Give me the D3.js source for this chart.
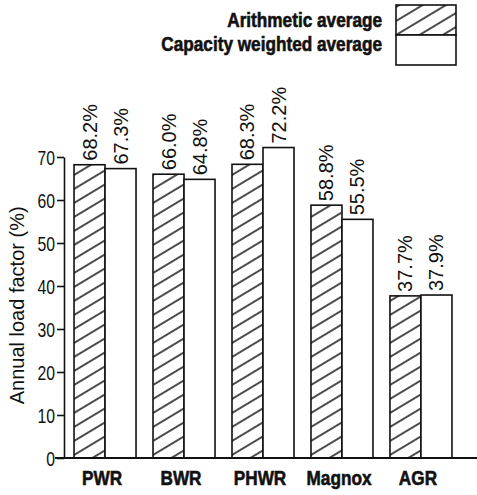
<!DOCTYPE html>
<html>
<head>
<meta charset="utf-8">
<script src="https://cdn.jsdelivr.net/npm/d3@7"></script>
<style>
  body { margin: 0; background: #fff; }
  svg text { font-family: "Liberation Sans", Arial, sans-serif; fill: #111; }
  svg text.heavy { font-weight: bold; stroke: #111; stroke-width: 0.6px; }
</style>
</head>
<body>
<div id="chart"></div>
<script>
const categories = ["PWR", "BWR", "PHWR", "Magnox", "AGR"];
const arithmetic = [68.2, 66.0, 68.3, 58.8, 37.7];
const capacityWeighted = [67.3, 64.8, 72.2, 55.5, 37.9];
const seriesNames = ["Arithmetic average", "Capacity weighted average"];
const yTicks = [0, 10, 20, 30, 40, 50, 60, 70];

const width = 477, height = 495;
const narrow = 0.75;   // squeeze for the condensed tick numbers
const boldNarrow = 0.86;

const svg = d3.select("#chart").append("svg")
  .attr("width", width)
  .attr("height", height);

// hatch for the arithmetic average
svg.append("defs").append("pattern")
  .attr("id", "hatch")
  .attr("patternUnits", "userSpaceOnUse")
  .attr("width", 10)
  .attr("height", 12)
  .attr("patternTransform", "rotate(-31)")
  .append("line")
  .attr("x1", -1).attr("y1", 6)
  .attr("x2", 11).attr("y2", 6)
  .attr("stroke", "#000")
  .attr("stroke-width", 1.4);

const fills = ["url(#hatch)", "#fff"];

const y = d3.scaleLinear().domain([0, 70]).range([458, 157]);

const x0 = d3.scaleBand()
  .domain(categories)
  .range([64, 462])
  .paddingInner(0.215)
  .paddingOuter(0.127);

const x1 = d3.scaleBand()
  .domain(seriesNames)
  .range([0, x0.bandwidth()]);

const rows = categories.map((c, i) => ({
  cat: c,
  values: [
    { key: seriesNames[0], v: arithmetic[i] },
    { key: seriesNames[1], v: capacityWeighted[i] }
  ]
}));

// y axis
const yAxis = svg.append("g")
  .attr("transform", "translate(64,0)")
  .call(d3.axisLeft(y).tickValues(yTicks).tickSize(7).tickPadding(2).tickSizeOuter(0));
yAxis.select(".domain").attr("stroke", "#111").attr("stroke-width", 1.6);
yAxis.selectAll(".tick line").attr("stroke", "#111").attr("stroke-width", 1.6);
yAxis.selectAll(".tick text")
  .style("font-size", "21px")
  .attr("transform", "scale(" + narrow + ",1)")
  .attr("x", -9 / narrow)
  .attr("dy", "0.36em");

svg.append("text")
  .attr("transform", "translate(24," + y(35.5) + ") rotate(-90)")
  .attr("text-anchor", "middle")
  .style("font-size", "20px")
  .text("Annual load factor (%)");

// groups of bars
const groups = svg.selectAll(".grp")
  .data(rows)
  .join("g")
  .attr("class", "grp")
  .attr("transform", d => "translate(" + x0(d.cat) + ",0)");

groups.selectAll("rect")
  .data(d => d.values)
  .join("rect")
  .attr("x", d => x1(d.key))
  .attr("y", d => y(d.v))
  .attr("width", x1.bandwidth())
  .attr("height", d => y(0) - y(d.v))
  .attr("fill", (d, i) => fills[i])
  .attr("stroke", "#111")
  .attr("stroke-width", 1.6);

groups.selectAll(".val")
  .data(d => d.values)
  .join("text")
  .attr("class", "val")
  .attr("transform", d => "translate(" + (x1(d.key) + x1.bandwidth() / 2 + 7) + "," + (y(d.v) - 4) + ") rotate(-90)")
  .style("font-size", "20px")
  .text(d => d3.format(".1f")(d.v) + "%");

// baseline
svg.append("line")
  .attr("x1", 55).attr("x2", width)
  .attr("y1", y(0)).attr("y2", y(0))
  .attr("stroke", "#111")
  .attr("stroke-width", 1.8);

// category labels
svg.selectAll(".cat")
  .data(categories)
  .join("text")
  .attr("class", "cat heavy")
  .attr("transform", d => "translate(" + (x0(d) + x0.bandwidth() / 2 - 3) + ",485) scale(" + boldNarrow + ",1)")
  .attr("text-anchor", "middle")
  .style("font-size", "20px")
  .text(d => d);

// legend
const legend = svg.append("g");
seriesNames.forEach((name, i) => {
  legend.append("rect")
    .attr("x", 396)
    .attr("y", 5 + i * 30)
    .attr("width", 60)
    .attr("height", 30)
    .attr("fill", fills[i])
    .attr("stroke", "#111")
    .attr("stroke-width", 1.6);
  legend.append("text")
    .attr("class", "heavy")
    .attr("transform", "translate(382," + (27 + i * 24) + ") scale(" + boldNarrow + ",1)")
    .attr("text-anchor", "end")
    .style("font-size", "20px")
    .text(name);
});
</script>
</body>
</html>
